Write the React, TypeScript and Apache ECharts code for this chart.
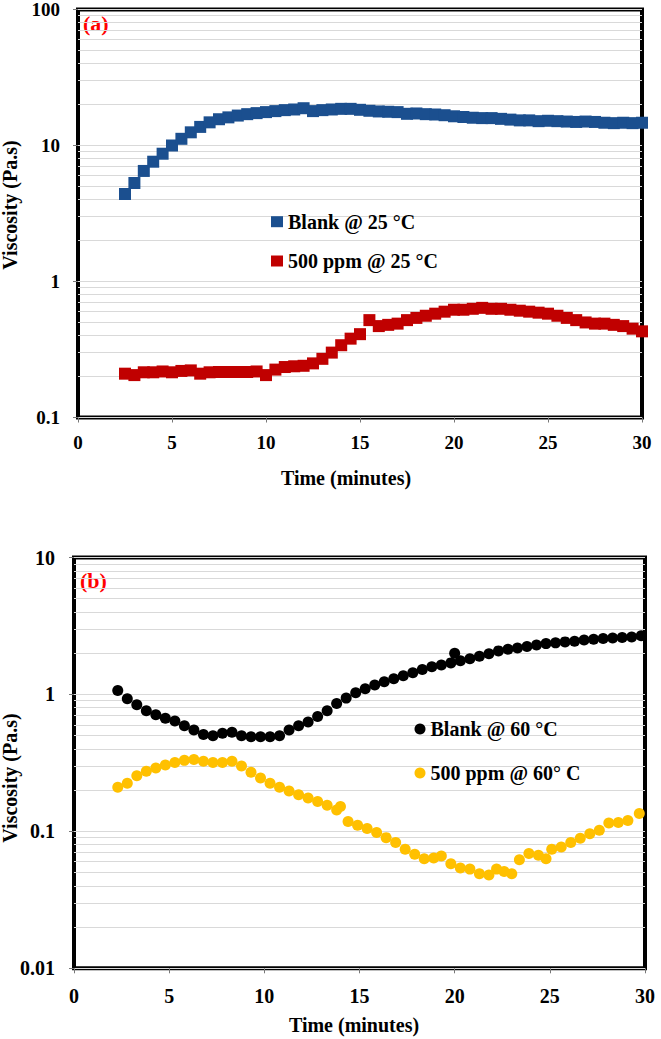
import React, { useEffect, useRef } from "react";
import * as echarts from "echarts";

// ---------- data ----------
// (a) 25 °C, time in minutes
const timeA = [
  2.5, 3, 3.5, 4, 4.5, 5, 5.5, 6, 6.5, 7, 7.5, 8, 8.5, 9, 9.5, 10, 10.5, 11, 11.5, 12,
  12.5, 13, 13.5, 14, 14.5, 15, 15.5, 16, 16.5, 17, 17.5, 18, 18.5, 19, 19.5, 20, 20.5, 21, 21.5, 22,
  22.5, 23, 23.5, 24, 24.5, 25, 25.5, 26, 26.5, 27, 27.5, 28, 28.5, 29, 29.5, 30,
];
const blank25 = [
  4.4, 5.3, 6.5, 7.6, 8.7, 10.0, 11.2, 12.5, 13.7, 14.8,
  15.6, 16.1, 16.6, 17.0, 17.3, 17.6, 17.9, 18.2, 18.4, 18.8,
  17.9, 18.2, 18.4, 18.6, 18.6, 18.3, 18.0, 17.8, 17.7, 17.6,
  17.1, 17.2, 17.0, 16.9, 16.7, 16.4, 16.2, 16.0, 15.9, 15.9,
  15.7, 15.5, 15.3, 15.3, 15.1, 15.2, 15.1, 15.0, 14.9, 15.0,
  14.9, 14.7, 14.6, 14.7, 14.6, 14.7,
];
const ppm25 = [
  0.21, 0.205, 0.215, 0.215, 0.218, 0.215, 0.22, 0.222, 0.21, 0.215,
  0.216, 0.216, 0.216, 0.216, 0.218, 0.205, 0.225, 0.235, 0.238, 0.24,
  0.25, 0.27, 0.3, 0.34, 0.38, 0.41, 0.52, 0.47, 0.48, 0.49,
  0.52, 0.54, 0.56, 0.58, 0.6, 0.62, 0.62, 0.63, 0.64, 0.63,
  0.63, 0.62, 0.61, 0.6, 0.59, 0.58, 0.56, 0.54, 0.52, 0.5,
  0.49, 0.49, 0.48, 0.47, 0.45, 0.43,
];

// (b) 60 °C
const timeBlank60 = [
  2.3, 2.8, 3.3, 3.8, 4.3, 4.8, 5.3, 5.8, 6.3, 6.8, 7.3, 7.8, 8.3, 8.8, 9.3, 9.8, 10.3, 10.8,
  11.3, 11.8, 12.3, 12.8, 13.3, 13.8, 14.3, 14.8, 15.3, 15.8, 16.3, 16.8, 17.3, 17.8, 18.3, 18.8,
  19.3, 19.8, 20.0, 20.3, 20.8, 21.3, 21.8, 22.3, 22.8, 23.3, 23.8, 24.3, 24.8, 25.3, 25.8, 26.3,
  26.8, 27.3, 27.8, 28.3, 28.8, 29.3, 29.8,
];
const blank60 = [
  1.07, 0.93, 0.84, 0.76, 0.71, 0.67, 0.64, 0.59, 0.55, 0.51, 0.5, 0.52, 0.53, 0.5, 0.49, 0.49, 0.49, 0.5,
  0.55, 0.59, 0.63, 0.69, 0.76, 0.86, 0.94, 1.03, 1.1, 1.17, 1.24, 1.3, 1.37, 1.44, 1.52, 1.59,
  1.64, 1.7, 2.0, 1.76, 1.82, 1.9, 1.98, 2.08, 2.14, 2.18, 2.24, 2.3, 2.35, 2.38, 2.42, 2.45,
  2.5, 2.53, 2.56, 2.58, 2.6, 2.63, 2.68,
];
const timePpm60 = [
  2.3, 2.8, 3.3, 3.8, 4.3, 4.8, 5.3, 5.8, 6.3, 6.8, 7.3, 7.8, 8.3, 8.8, 9.3, 9.8, 10.3, 10.8,
  11.3, 11.8, 12.3, 12.8, 13.3, 13.8, 14.0, 14.4, 14.9, 15.4, 15.9, 16.4, 16.9, 17.4, 17.9, 18.4,
  18.9, 19.3, 19.8, 20.3, 20.8, 21.3, 21.8, 22.2, 22.6, 23.0, 23.4, 23.9, 24.4, 24.8, 25.1, 25.6,
  26.1, 26.6, 27.1, 27.6, 28.1, 28.6, 29.1, 29.7,
];
const ppm60 = [
  0.21, 0.225, 0.255, 0.275, 0.29, 0.305, 0.318, 0.33, 0.335, 0.325, 0.318, 0.318, 0.325, 0.3, 0.27, 0.245, 0.225, 0.21,
  0.197, 0.185, 0.175, 0.165, 0.155, 0.143, 0.152, 0.118, 0.111, 0.105, 0.098, 0.09, 0.083, 0.074, 0.068, 0.063,
  0.064, 0.066, 0.058, 0.054, 0.053, 0.049, 0.048, 0.053, 0.051, 0.049, 0.062, 0.069, 0.067, 0.063, 0.074, 0.077,
  0.083, 0.089, 0.096, 0.102, 0.115, 0.116, 0.12, 0.135,
];

const decadesA = [0.1, 1, 10, 100];
const decadesB = [0.01, 0.1, 1, 10];
const seriesNames = ["Blank @ 25 °C", "500 ppm @ 25 °C", "Blank @ 60 °C", "500 ppm @ 60° C"];

// ---------- helpers ----------
const FONT = '"Liberation Serif", "Times New Roman", serif';
const zip = (t: number[], v: number[]) => t.map((x, i) => [x, v[i]]);
const minorLines = (dec: number[]) => {
  const out: any[] = [];
  for (let i = 0; i < dec.length - 1; i++)
    for (let k = 2; k <= 9; k++) out.push({ yAxis: parseFloat((dec[i] * k).toPrecision(4)) });
  return out;
};
const fmt = (v: number) => String(parseFloat(Number(v).toPrecision(6)));

const gridMarkLine = (dec: number[]) => ({
  silent: true,
  z: 1,
  symbol: "none",
  label: { show: false },
  lineStyle: { color: "#d9d9d9", width: 1, type: "solid" },
  emphasis: { disabled: true },
  data: minorLines(dec),
});

const xAxisCfg = (gridIndex: number, fontSize: number, margin: number) => ({
  gridIndex,
  type: "value",
  min: 0,
  max: 30,
  interval: 5,
  axisLine: { show: false },
  axisTick: { show: true, length: 5, lineStyle: { color: "#777", width: 1 } },
  splitLine: { show: false },
  axisLabel: { fontFamily: FONT, fontWeight: "bold", fontSize, color: "#000", margin },
});
const yAxisCfg = (gridIndex: number, min: number, max: number, fontSize: number, margin: number) => ({
  gridIndex,
  type: "log",
  logBase: 10,
  min,
  max,
  axisLine: { show: false },
  axisTick: { show: true, length: 5, lineStyle: { color: "#777", width: 1 } },
  splitLine: { show: true, lineStyle: { color: "#d9d9d9", width: 1 } },
  minorTick: { show: false },
  axisLabel: { fontFamily: FONT, fontWeight: "bold", fontSize, color: "#000", margin, formatter: fmt },
});

const txt = (text: string, x: number, y: number, size: number, fill: string, align = "center", rotation = 0) => ({
  type: "text",
  x,
  y,
  rotation,
  silent: true,
  style: {
    text,
    fontFamily: FONT,
    fontWeight: "bold",
    fontSize: size,
    fill,
    align,
    verticalAlign: "middle",
    textAlign: align,
    textVerticalAlign: "middle",
  },
});

const scatter = (name: string, gi: number, symbol: string, size: number, color: string, data: number[][], extra: any = {}) => ({
  name,
  type: "scatter",
  xAxisIndex: gi,
  yAxisIndex: gi,
  symbol,
  symbolSize: size,
  itemStyle: { color, opacity: 1 },
  emphasis: { disabled: true },
  data,
  ...extra,
});

export default function App() {
  const ref = useRef<HTMLDivElement>(null);
  useEffect(() => {
    document.body.style.margin = "0";
    if (!ref.current) return;
    const chart = echarts.init(ref.current, undefined, { renderer: "svg" });
    const legendText = { fontFamily: FONT, fontWeight: "bold", fontSize: 20, color: "#000", lineHeight: 20 };
    chart.setOption({
      animation: false,
      backgroundColor: "#fff",
      grid: [
        { left: 78, right: 19, top: 8, height: 409.5, show: true, borderColor: "#000", borderWidth: 4, backgroundColor: "transparent" },
        { left: 74, right: 16, top: 557.5, height: 410.8, show: true, borderColor: "#000", borderWidth: 4, backgroundColor: "transparent" },
      ],
      xAxis: [xAxisCfg(0, 19, 15), xAxisCfg(1, 20, 18)],
      yAxis: [yAxisCfg(0, 0.1, 100, 19, 18), yAxisCfg(1, 0.01, 10, 20, 19)],
      legend: [
        {
          data: [seriesNames[0], seriesNames[1]],
          orient: "vertical",
          left: 266,
          top: 206.7,
          icon: "rect",
          itemWidth: 12,
          itemHeight: 11,
          itemGap: 19.3,
          selectedMode: false,
          textStyle: legendText,
        },
        {
          data: [seriesNames[2], seriesNames[3]],
          orient: "vertical",
          left: 409.5,
          top: 714,
          icon: "circle",
          itemWidth: 11,
          itemHeight: 11,
          itemGap: 24,
          selectedMode: false,
          textStyle: legendText,
        },
      ],
      series: [
        scatter(seriesNames[0], 0, "rect", 12, "#1B4F8F", zip(timeA, blank25), { markLine: gridMarkLine(decadesA) }),
        scatter(seriesNames[1], 0, "rect", 12, "#C00000", zip(timeA, ppm25)),
        scatter(seriesNames[2], 1, "circle", 11, "#000000", zip(timeBlank60, blank60), { markLine: gridMarkLine(decadesB) }),
        scatter(seriesNames[3], 1, "circle", 11, "#FFC000", zip(timePpm60, ppm60)),
      ],
      graphic: [
        txt("(a)", 83, 23, 22, "#FF0000", "left"),
        txt("(b)", 80, 580, 22, "#FF0000", "left"),
        txt("Time (minutes)", 346, 478, 20, "#000"),
        txt("Time (minutes)", 354, 1025, 20, "#000"),
        txt("Viscosity (Pa.s)", 10, 205, 20, "#000", "center", Math.PI / 2),
        txt("Viscosity (Pa.s)", 10, 778, 20, "#000", "center", Math.PI / 2),
      ],
    });
    return () => chart.dispose();
  }, []);
  return <div ref={ref} style={{ width: 661, height: 1039 }} />;
}
